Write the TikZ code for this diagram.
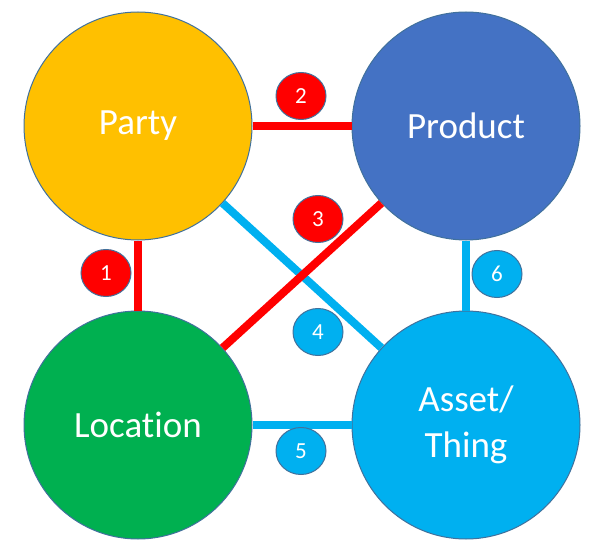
\documentclass[tikz,border=0pt]{standalone}
\usepackage{fontspec}
\setmainfont[Ligatures={NoCommon}]{Carlito}
\usetikzlibrary{shapes.geometric}
\definecolor{partyc}{HTML}{FFC000}
\definecolor{productc}{HTML}{4472C4}
\definecolor{locc}{HTML}{00B050}
\definecolor{assetc}{HTML}{00B0F0}
\definecolor{redc}{HTML}{FF0000}
\definecolor{edgec}{HTML}{41719C}
\begin{document}
\begin{tikzpicture}[x=1pt,y=-1pt,
  bigc/.style={circle,draw=edgec,line width=1pt,minimum size=228pt,inner sep=0pt,
    text=white,align=center,font=\fontsize{37}{46}\selectfont},
  badge/.style={ellipse,draw=edgec,line width=1pt,minimum width=50pt,minimum height=47pt,
    inner sep=0pt,text=white,font=\fontsize{23}{27}\selectfont},
  redbadge/.style={badge,fill=redc},
  bluebadge/.style={badge,fill=assetc},
  redline/.style={draw=redc,line width=8pt},
  blueline/.style={draw=assetc,line width=8pt}]
\useasboundingbox (0,0) rectangle (599,556);
\node[bigc,fill=partyc] (party) at (138,126) {Party};
\node[bigc,fill=productc] (product) at (466,126) {Product};
\node[bigc,fill=locc] (location) at (138,425) {Location};
\node[bigc,fill=assetc] (asset) at (466,425) {Asset/\\Thing};
\draw[redline] (party) -- (product);
\draw[redline] (party) -- (location);
\draw[blueline] (party) -- (asset);
\draw[redline] (location) -- (product);
\draw[blueline] (product) -- (asset);
\draw[blueline] (location) -- (asset);
\node[redbadge] (b1) at (106,273) {1};
\node[redbadge] (b2) at (301,96) {2};
\node[redbadge] (b3) at (318,219) {3};
\node[bluebadge] (b4) at (318,332) {4};
\node[bluebadge] (b5) at (301,451) {5};
\node[bluebadge] (b6) at (497,274) {6};
\end{tikzpicture}
\end{document}
